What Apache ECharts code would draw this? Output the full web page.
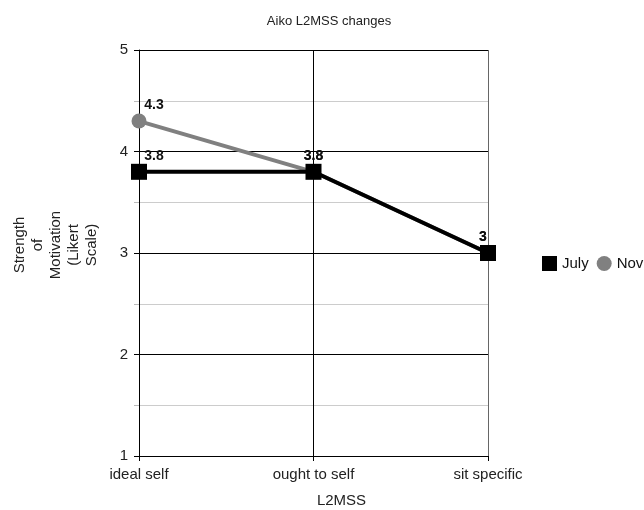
<!DOCTYPE html>
<html><head><meta charset="utf-8">
<script src="https://cdn.jsdelivr.net/npm/echarts@6/dist/echarts.min.js"></script>
<style>html,body{margin:0;padding:0;background:#fff}#c{width:644px;height:510px}</style>
</head><body><div id="c"></div>
<script>
const categories = ['ideal self', 'ought to self', 'sit specific'];
const julyValues = [3.8, 3.8, 3];
const novValues = [4.3, 3.8, 3];
const seriesNames = ['July', 'Nov'];
const titleText = 'Aiko L2MSS changes';
const yTitle = 'Strength\nof\nMotivation\n(Likert\nScale)';
const xTitle = 'L2MSS';

const font = 'Liberation Sans, Arial, sans-serif';
function withOffsets(vals) {
  return vals.map((v, i) => i === 0 ? { value: v, label: { offset: [15, 0] } } :
    (i === vals.length - 1 ? { value: v, label: { offset: [-5, 0] } } : v));
}
const chart = echarts.init(document.getElementById('c'));
chart.setOption({
  animation: false,
  title: { text: titleText, left: 324, top: 10, textAlign: 'center',
    textStyle: { fontFamily: font, fontSize: 13, fontWeight: 'normal', color: '#222' } },
  legend: { left: 537, top: 251, width: 300, orient: 'horizontal', itemWidth: 15, itemHeight: 15, itemGap: 8,
    textStyle: { fontFamily: font, fontSize: 15, color: '#111' },
    data: [{ name: seriesNames[0], icon: 'rect' }, { name: seriesNames[1], icon: 'circle' }] },
  grid: { left: 139, right: 156, top: 50, bottom: 54, containLabel: false, outerBoundsMode: 'none' },
  xAxis: {
    type: 'category', data: categories, boundaryGap: false,
    name: xTitle, nameLocation: 'middle', nameGap: 37,
    nameTextStyle: { fontFamily: font, fontSize: 15, color: '#222', padding: [0, 0, 0, 56] },
    axisLine: { lineStyle: { color: '#000', width: 1 } },
    axisTick: { show: true, length: 5, lineStyle: { color: '#000' } },
    axisLabel: { fontFamily: font, fontSize: 15, color: '#222', margin: 11 },
    splitLine: { show: true, lineStyle: { color: ['#000', '#000', '#666'], width: 1 } }
  },
  yAxis: {
    type: 'value', min: 1, max: 5, interval: 1,
    name: yTitle, nameLocation: 'middle', nameGap: 83, nameRotate: 90,
    nameTextStyle: { fontFamily: font, fontSize: 15, color: '#222', lineHeight: 18,
      align: 'center', verticalAlign: 'middle', padding: [0, 0, 0, 16] },
    axisLine: { show: true, lineStyle: { color: '#000', width: 1 } },
    axisTick: { show: true, length: 5, lineStyle: { color: '#000' } },
    minorTick: { show: true, splitNumber: 2, length: 5, lineStyle: { color: '#bbb' } },
    minorSplitLine: { show: true, lineStyle: { color: '#ccc', width: 1 } },
    axisLabel: { fontFamily: font, fontSize: 15, color: '#222', margin: 11 },
    splitLine: { show: true, lineStyle: { color: '#000', width: 1 } }
  },
  series: [
    { name: seriesNames[1], type: 'line', data: withOffsets(novValues), z: 2,
      symbol: 'circle', symbolSize: 15,
      lineStyle: { color: '#808080', width: 4 }, itemStyle: { color: '#808080' },
      label: { show: true, position: 'top', distance: 1, fontFamily: font, fontSize: 14, fontWeight: 'bold', color: '#111' } },
    { name: seriesNames[0], type: 'line', data: withOffsets(julyValues), z: 3,
      symbol: 'rect', symbolSize: 16,
      lineStyle: { color: '#000', width: 4 }, itemStyle: { color: '#000' },
      label: { show: true, position: 'top', distance: 1, fontFamily: font, fontSize: 14, fontWeight: 'bold', color: '#111' } }
  ]
});
</script></body></html>
